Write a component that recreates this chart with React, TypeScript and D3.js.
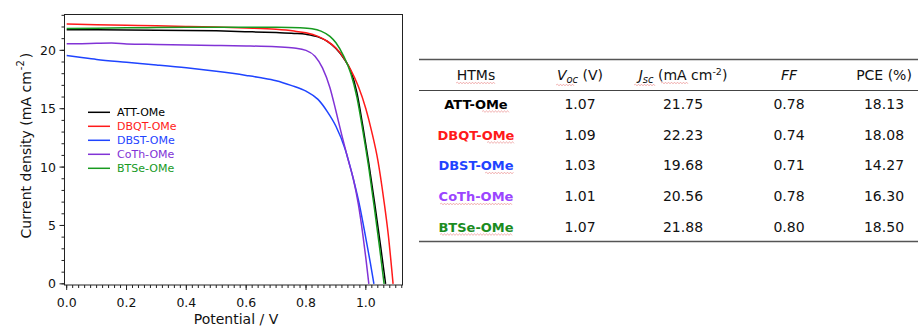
import React from "react";
import * as d3 from "d3";

// ---------- data ----------
const seriesNames = ["ATT-OMe", "DBQT-OMe", "DBST-OMe", "CoTh-OMe", "BTSe-OMe"];
const lineColors = ["#000000", "#ff1a1a", "#1f44ff", "#8133d6", "#179a1f"];
const tableColors = ["#000000", "#ff1a1a", "#1f44ff", "#9b45ff", "#1b8c1f"];

const attV = [0, 0.1, 0.2, 0.3, 0.4, 0.5, 0.6, 0.7, 0.76, 0.8, 0.84, 0.87, 0.9, 0.925, 0.95, 0.97, 0.99, 1.01, 1.03, 1.05, 1.066];
const attJ = [21.77, 21.76, 21.75, 21.73, 21.7, 21.67, 21.6, 21.52, 21.45, 21.37, 21.15, 20.78, 20.15, 19.35, 18.2, 16.4, 13.5, 10.3, 6.8, 3.1, 0];

const dbqtV = [0, 0.1, 0.2, 0.3, 0.4, 0.5, 0.6, 0.7, 0.76, 0.8, 0.84, 0.87, 0.9, 0.925, 0.95, 0.975, 1.0, 1.02, 1.04, 1.06, 1.075, 1.091];
const dbqtJ = [22.25, 22.2, 22.15, 22.1, 22.05, 22.0, 21.92, 21.8, 21.65, 21.5, 21.2, 20.8, 20.2, 19.4, 18.3, 16.9, 15.0, 13.0, 10.6, 7.2, 4.2, 0];

const dbstV = [0, 0.05, 0.1, 0.2, 0.3, 0.4, 0.5, 0.6, 0.65, 0.7, 0.75, 0.8, 0.84, 0.87, 0.9, 0.93, 0.958, 0.98, 1.0, 1.015, 1.027];
const dbstJ = [19.55, 19.38, 19.22, 18.98, 18.75, 18.5, 18.2, 17.85, 17.65, 17.4, 17.0, 16.5, 15.8, 14.8, 13.5, 11.6, 9.0, 6.6, 3.9, 1.8, 0];

const cothV = [0, 0.05, 0.1, 0.15, 0.2, 0.3, 0.4, 0.5, 0.6, 0.7, 0.76, 0.8, 0.83, 0.855, 0.88, 0.9, 0.92, 0.94, 0.958, 0.975, 0.99, 1.0, 1.01];
const cothJ = [20.56, 20.57, 20.6, 20.62, 20.55, 20.5, 20.45, 20.42, 20.38, 20.3, 20.2, 20.0, 19.5, 18.5, 16.8, 14.8, 12.7, 10.7, 9.0, 6.8, 4.2, 2.2, 0];

const btseV = [0, 0.1, 0.2, 0.3, 0.4, 0.5, 0.6, 0.7, 0.78, 0.82, 0.85, 0.88, 0.9, 0.925, 0.95, 0.97, 0.99, 1.01, 1.03, 1.045, 1.061];
const btseJ = [21.88, 21.9, 21.93, 21.95, 21.97, 21.98, 21.98, 21.97, 21.93, 21.85, 21.65, 21.2, 20.65, 19.55, 18.0, 16.0, 13.1, 9.9, 6.2, 3.3, 0];

const seriesV = [attV, dbqtV, dbstV, cothV, btseV];
const seriesJ = [attJ, dbqtJ, dbstJ, cothJ, btseJ];

const xMajorTicks = [0, 0.2, 0.4, 0.6, 0.8, 1.0];
const yMajorTicks = [0, 5, 10, 15, 20];

// table
const htms = ["ATT-OMe", "DBQT-OMe", "DBST-OMe", "CoTh-OMe", "BTSe-OMe"];
const voc = ["1.07", "1.09", "1.03", "1.01", "1.07"];
const jsc = ["21.75", "22.23", "19.68", "20.56", "21.88"];
const ff = ["0.78", "0.74", "0.71", "0.78", "0.80"];
const pce = ["18.13", "18.08", "14.27", "16.30", "18.50"];

// ---------- layout ----------
const FONT = "'DejaVu Sans', Verdana, sans-serif";
const plotL = 64.5, plotR = 402.5, plotT = 14.5, plotB = 285;

const x = d3.scaleLinear().domain([-0.0073, 1.1225]).range([plotL, plotR]);
const y = d3.scaleLinear().domain([-0.1, 23.07]).range([plotB, plotT]);

const xMinor = d3.range(0, 1.121, 0.02);
const yMinor = d3.range(0, 24, 1);

const line = d3
  .line<[number, number]>()
  .x((d) => x(d[0]))
  .y((d) => y(d[1]))
  .curve(d3.curveMonotoneX);

function wavy(x1: number, x2: number, yy: number): string {
  let p = `M${x1},${yy}`;
  let up = true;
  for (let xx = x1 + 1.5; xx <= x2; xx += 1.5) {
    p += ` L${xx.toFixed(1)},${(yy + (up ? -0.9 : 0.9)).toFixed(1)}`;
    up = !up;
  }
  return p;
}

const colX = [476, 580, 683, 789, 884];
const rowY = [108.5, 139.5, 170, 201, 231.5];
const tableL = 419, tableR = 918;
const wavyColor = "#e0555580";

// wavy underline spans for row labels [x1, x2] (underline decoration as in reference)
const rowWavy: [number, number][] = [
  [482, 509],
  [487, 514],
  [485, 514],
  [440, 512],
  [440, 512],
];

export default function App() {
  return (
    <svg
      width={920}
      height={326}
      style={{ position: "absolute", left: 0, top: 0, background: "#fff" }}
      fontFamily={FONT}
    >
      <rect width={920} height={326} fill="#fff" />
      {/* curves */}
      <g clipPath="url(#clip)">
        <clipPath id="clip">
          <rect x={plotL} y={plotT} width={plotR - plotL} height={plotB - plotT} />
        </clipPath>
        {seriesNames.map((n, i) => (
          <path
            key={n}
            d={line(seriesV[i].map((v, k) => [v, seriesJ[i][k]] as [number, number])) || ""}
            fill="none"
            stroke={lineColors[i]}
            strokeWidth={1.5}
            strokeLinejoin="round"
          />
        ))}
      </g>
      {/* frame */}
      <rect x={plotL} y={plotT} width={plotR - plotL} height={plotB - plotT} fill="none" stroke="#222" strokeWidth={1} />
      {/* x ticks */}
      {xMinor.map((v) => (
        <line key={"xm" + v} x1={x(v)} x2={x(v)} y1={plotB} y2={plotB + 3} stroke="#222" strokeWidth={1} />
      ))}
      {xMajorTicks.map((v) => (
        <g key={"xM" + v}>
          <line x1={x(v)} x2={x(v)} y1={plotB} y2={plotB + 5} stroke="#222" strokeWidth={1} />
          <text x={x(v)} y={307.3} fontSize={12.5} textAnchor="middle" fill="#111">
            {v.toFixed(1)}
          </text>
        </g>
      ))}
      {/* y ticks */}
      {yMinor.map((v) => (
        <line key={"ym" + v} x1={plotL - 3} x2={plotL} y1={y(v)} y2={y(v)} stroke="#222" strokeWidth={1} />
      ))}
      {yMajorTicks.map((v) => (
        <g key={"yM" + v}>
          <line x1={plotL - 5} x2={plotL} y1={y(v)} y2={y(v)} stroke="#222" strokeWidth={1} />
          <text x={56} y={y(v) + 4.5} fontSize={12.5} textAnchor="end" fill="#111">
            {v}
          </text>
        </g>
      ))}
      {/* axis titles */}
      <text x={236} y={323.5} fontSize={14} textAnchor="middle" fill="#111">
        Potential / V
      </text>
      <text transform="translate(30.5,238.5) rotate(-90)" fontSize={14} fill="#111">
        Current density (mA cm
        <tspan fontSize={10} dy={-7} dx={1}>-2</tspan>
        <tspan dy={7} dx={2}>)</tspan>
      </text>
      {/* legend */}
      {seriesNames.map((n, i) => (
        <g key={"lg" + n}>
          <line x1={88} x2={110} y1={112.3 + i * 14} y2={112.3 + i * 14} stroke={lineColors[i]} strokeWidth={1.5} />
          <text x={117} y={112.3 + i * 14 + 4} fontSize={11} fill={lineColors[i]}>
            {n}
          </text>
        </g>
      ))}

      {/* table */}
      <line x1={tableL} x2={tableR} y1={59.5} y2={59.5} stroke="#555" strokeWidth={1.6} />
      <line x1={tableL} x2={tableR} y1={90.5} y2={90.5} stroke="#444" strokeWidth={1} />
      <line x1={tableL} x2={tableR} y1={241.5} y2={241.5} stroke="#555" strokeWidth={1.6} />

      <g fontSize={14} fill="#111" textAnchor="middle">
        <text x={colX[0]} y={80}>HTMs</text>
        <text x={colX[1]} y={80}>
          <tspan fontStyle="italic">V</tspan>
          <tspan fontStyle="italic" fontSize={10} dy={3}>oc</tspan>
          <tspan dy={-3}> (V)</tspan>
        </text>
        <text x={colX[2]} y={80}>
          <tspan fontStyle="italic">J</tspan>
          <tspan fontStyle="italic" fontSize={10} dy={3}>sc</tspan>
          <tspan dy={-3}> (mA cm</tspan>
          <tspan fontSize={9.5} dy={-5}>-2</tspan>
          <tspan dy={5}>)</tspan>
        </text>
        <text x={colX[3]} y={80} fontStyle="italic">FF</text>
        <text x={colX[4]} y={80}>PCE (%)</text>
      </g>
      {/* spell-check underlines from the source screenshot */}
      <g fill="none" stroke={wavyColor} strokeWidth={0.8}>
        <path d={wavy(456, 496, 83)} />
        <path d={wavy(556, 575, 85)} />
        <path d={wavy(634, 655, 85)} />
        <path d={wavy(661, 689, 83)} />
        {rowWavy.map((w, i) => (
          <path key={"w" + i} d={wavy(w[0], w[1], rowY[i] + 3)} />
        ))}
      </g>
      {htms.map((h, i) => (
        <g key={"row" + h} fontSize={14} textAnchor="middle">
          <text x={colX[0]} y={rowY[i]} fontSize={13} fontWeight="bold" fill={tableColors[i]}>
            {h}
          </text>
          <text x={colX[1]} y={rowY[i]} fill="#111">{voc[i]}</text>
          <text x={colX[2]} y={rowY[i]} fill="#111">{jsc[i]}</text>
          <text x={colX[3]} y={rowY[i]} fill="#111">{ff[i]}</text>
          <text x={colX[4]} y={rowY[i]} fill="#111">{pce[i]}</text>
        </g>
      ))}
    </svg>
  );
}
